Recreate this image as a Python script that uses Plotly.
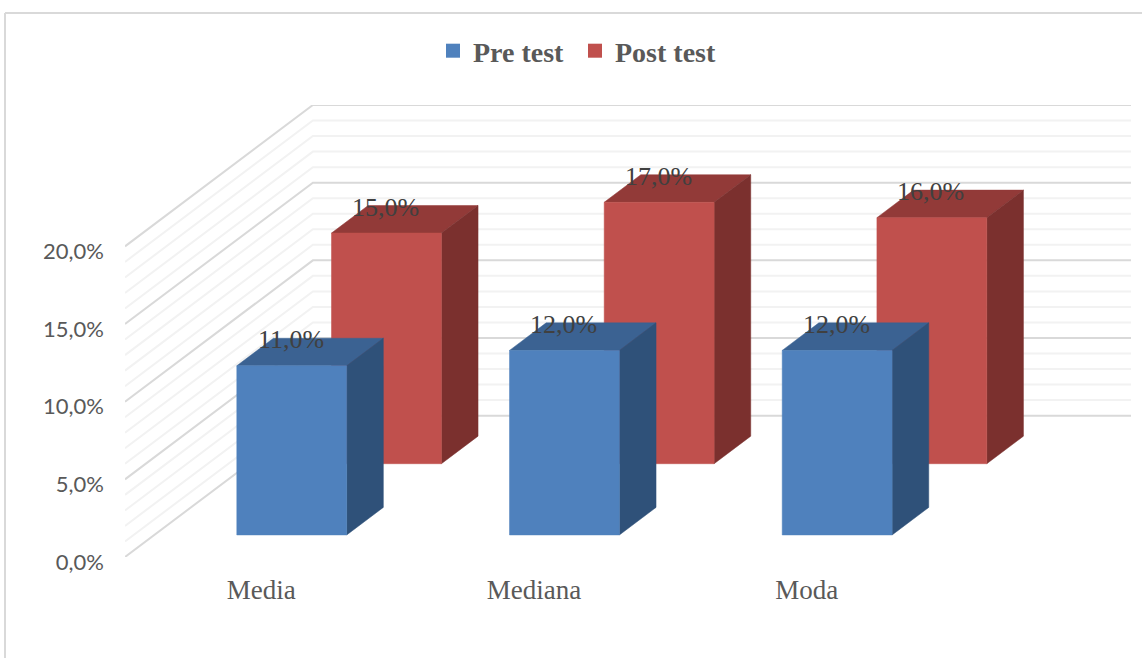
import plotly.graph_objects as go

# Values
categories = ['Media', 'Mediana', 'Moda']
pre_test = [11.0, 12.0, 12.0]
post_test = [15.0, 17.0, 16.0]
y_ticks = [0, 5, 10, 15, 20]
y_labels = ['0,0%', '5,0%', '10,0%', '15,0%', '20,0%']

# Oblique projection of the 3D box: depth 0..1 runs from the front edge to the back wall
depth_dx = 0.689  # in category widths
depth_dy = 9.1    # in percent units
bar_width = 0.403
bar_depth = 0.195
bar_scale = 0.99  # bars come out slightly shorter than the wall scale in the original
pre_depth = 0.156
post_depth = 0.66


def project(cat, value, depth):
    return cat + depth * depth_dx, value + depth * depth_dy


def face(corners, color):
    pts = [project(*c) for c in corners]
    xs = [p[0] for p in pts] + [pts[0][0]]
    ys = [p[1] for p in pts] + [pts[0][1]]
    return go.Scatter(x=xs, y=ys, mode='lines', fill='toself', fillcolor=color,
                      line=dict(color=color, width=0.5), hoverinfo='skip',
                      showlegend=False, cliponaxis=False)


def bar_faces(i, value, z0, colors):
    x0 = i + 0.504 - bar_width / 2
    x1 = i + 0.504 + bar_width / 2
    z1 = z0 + bar_depth
    h = value * bar_scale
    return [
        face([(x0, h, z0), (x1, h, z0), (x1, h, z1), (x0, h, z1)], colors[1]),
        face([(x1, 0, z0), (x1, 0, z1), (x1, h, z1), (x1, h, z0)], colors[2]),
        face([(x0, 0, z0), (x1, 0, z0), (x1, h, z0), (x0, h, z0)], colors[0]),
    ]


def grid_trace(values, color):
    xs, ys = [], []
    for v in values:
        p0 = project(0, v, 0)
        p1 = project(0, v, 1)
        p2 = project(len(categories), v, 1)
        xs += [p0[0], p1[0], p2[0], None]
        ys += [p0[1], p1[1], p2[1], None]
    return go.Scatter(x=xs, y=ys, mode='lines', line=dict(color=color, width=2),
                      hoverinfo='skip', showlegend=False, cliponaxis=False)


blue = ['#4F81BD', '#3B6292', '#2F5179']
red = ['#C0504D', '#923A38', '#7B302E']

fig = go.Figure()

fig.add_trace(grid_trace([v for v in range(21) if v % 5 != 0], '#F2F2F2'))
fig.add_trace(grid_trace(y_ticks, '#D9D9D9'))

# back row first, the front row covers it
for i, v in enumerate(post_test):
    for tr in bar_faces(i, v, post_depth, red):
        fig.add_trace(tr)
for i, v in enumerate(pre_test):
    for tr in bar_faces(i, v, pre_depth, blue):
        fig.add_trace(tr)

# legend entries
fig.add_trace(go.Scatter(x=[None], y=[None], mode='markers', name='Pre test',
                         marker=dict(symbol='square', size=14, color=blue[0])))
fig.add_trace(go.Scatter(x=[None], y=[None], mode='markers', name='Post test',
                         marker=dict(symbol='square', size=14, color=red[0])))

# data labels sit above the front face of each bar
for values, z0 in [(post_test, post_depth), (pre_test, pre_depth)]:
    for i, v in enumerate(values):
        lx, ly = project(i + 0.5, v * bar_scale, z0)
        fig.add_annotation(x=lx, y=ly, text=f'{v:.1f}%'.replace('.', ','), showarrow=False,
                           yshift=26, xanchor='center', yanchor='middle',
                           font=dict(family='Liberation Serif', size=26, color='#404040'))

W, H = 1142, 658
fig.add_shape(type='line', xref='paper', yref='paper', x0=5 / W, x1=1, y0=1 - 13 / H, y1=1 - 13 / H,
              line=dict(color='#D9D9D9', width=2))
fig.add_shape(type='line', xref='paper', yref='paper', x0=5 / W, x1=5 / W, y0=0, y1=1 - 13 / H,
              line=dict(color='#D9D9D9', width=2))

fig.update_layout(
    width=W, height=H,
    margin=dict(l=0, r=0, t=0, b=0, autoexpand=False),
    paper_bgcolor='white', plot_bgcolor='white',
    legend=dict(orientation='h', x=433 / W, xanchor='left', y=1 - 51 / H, yanchor='middle',
                entrywidth=97,
                font=dict(family='Liberation Serif', size=28, color='#595959', weight='bold'),
                itemclick=False, itemdoubleclick=False),
    xaxis=dict(domain=[125 / W, 1131 / W], range=[0, len(categories) + depth_dx],
               tickmode='array', tickvals=[i + 0.5 for i in range(len(categories))],
               ticktext=categories, ticks='', ticklabelstandoff=14,
               showgrid=False, zeroline=False, showline=False,
               tickfont=dict(family='Liberation Serif', size=27, color='#595959')),
    yaxis=dict(domain=[1 - 557 / H, 1 - 105 / H], range=[0, 20 + depth_dy],
               tickmode='array', tickvals=y_ticks, ticktext=y_labels, ticks='',
               ticklabelstandoff=20, ticklabelshift=5,
               showgrid=False, zeroline=False, showline=False,
               tickfont=dict(family='Lato', size=22, color='#595959')),
)

fig.write_html("out.html", config=dict(displayModeBar=False),
               post_script="document.body.style.margin='0';")
